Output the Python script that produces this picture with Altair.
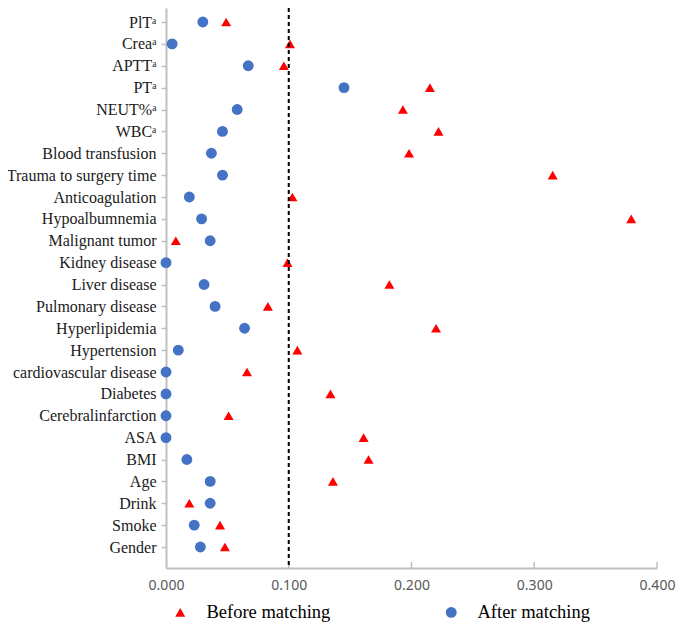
import altair as alt
import pandas as pd

categories = ["PlTᵃ", "Creaᵃ", "APTTᵃ", "PTᵃ", "NEUT%ᵃ", "WBCᵃ", "Blood transfusion",
              "Trauma to surgery time", "Anticoagulation", "Hypoalbumnemia", "Malignant tumor",
              "Kidney disease", "Liver disease", "Pulmonary disease", "Hyperlipidemia",
              "Hypertension", "cardiovascular disease", "Diabetes", "Cerebralinfarction",
              "ASA", "BMI", "Age", "Drink", "Smoke", "Gender"]

before = [0.049, 0.101, 0.096, 0.215, 0.193, 0.222, 0.198,
          0.315, 0.103, 0.379, 0.008,
          0.099, 0.182, 0.083, 0.220,
          0.107, 0.066, 0.134, 0.051,
          0.161, 0.165, 0.136, 0.019, 0.044, 0.048]

after = [0.030, 0.005, 0.067, 0.145, 0.058, 0.046, 0.037,
         0.046, 0.019, 0.029, 0.036,
         0.000, 0.031, 0.040, 0.064,
         0.010, 0.000, 0.000, 0.000,
         0.000, 0.017, 0.036, 0.036, 0.023, 0.028]

series = ["Before matching", "After matching"]
x_ticks = [0.0, 0.1, 0.2, 0.3, 0.4]
threshold = [0.1]

rows = []
for c, b, a in zip(categories, before, after):
    rows.append({"cat": c, "value": b, "series": series[0]})
    rows.append({"cat": c, "value": a, "series": series[1]})
df = pd.DataFrame(rows)

W, H = 491, 560

xscale = alt.Scale(domain=[0, 0.4], nice=False, zero=False)
xaxis = alt.Axis(values=x_ticks, format=".3f", title=None, grid=False, ticks=False,
                 domainColor="#BFBFBF", domainWidth=2, labelFlush=False,
                 labelFont="Noto Sans", labelFontSize=14, labelColor="#595959",
                 labelPadding=10)

points = alt.Chart(df).mark_point(filled=True, opacity=1, strokeWidth=0).encode(
    x=alt.X("value:Q", scale=xscale, axis=xaxis),
    y=alt.Y("cat:N", sort=categories,
            scale=alt.Scale(type="point", padding=0.8, align=0.4),
            axis=alt.Axis(title=None, grid=False, domainColor="#BFBFBF", domainWidth=2,
                          tickColor="#BFBFBF", tickSize=5, tickWidth=1.5,
                          labelFont="Liberation Serif", labelFontSize=16, labelColor="#1a1a1a",
                          labelPadding=5)),
    color=alt.Color("series:N", scale=alt.Scale(domain=series, range=["#FF0000", "#4472C4"]),
                    legend=alt.Legend(title=None, orient="none", legendX=5, legendY=595,
                                      direction="horizontal", columns=2, columnPadding=111,
                                      labelFont="Liberation Serif", labelFontSize=18.5,
                                      labelColor="#000000", labelOffset=17, symbolSize=110,
                                      padding=0)),
    shape=alt.Shape("series:N", scale=alt.Scale(domain=series, range=["triangle-up", "circle"]),
                    legend=None),
    size=alt.Size("series:N", scale=alt.Scale(domain=series, range=[100, 118]), legend=None),
)

xt = alt.Chart(pd.DataFrame({"v": x_ticks[1:]})).mark_rule(color="#BFBFBF", strokeWidth=1.5).encode(
    x=alt.X("v:Q", scale=xscale, axis=xaxis),
    y=alt.value(H - 6),
    y2=alt.value(H),
)

rule = alt.Chart(pd.DataFrame({"v": threshold})).mark_rule(
    color="#000000", strokeWidth=2, strokeDash=[4, 3]).encode(
    x=alt.X("v:Q", scale=xscale, axis=xaxis),
)

chart = alt.layer(points, xt, rule).properties(
    width=W, height=H,
    autosize=alt.AutoSizeParams(type="none"),
    padding={"left": 158, "top": 0, "right": 20, "bottom": 56},
).configure_view(stroke=None).configure_legend(symbolStrokeWidth=0)

chart.save("out.html", embed_options={"renderer": "svg", "actions": False})
